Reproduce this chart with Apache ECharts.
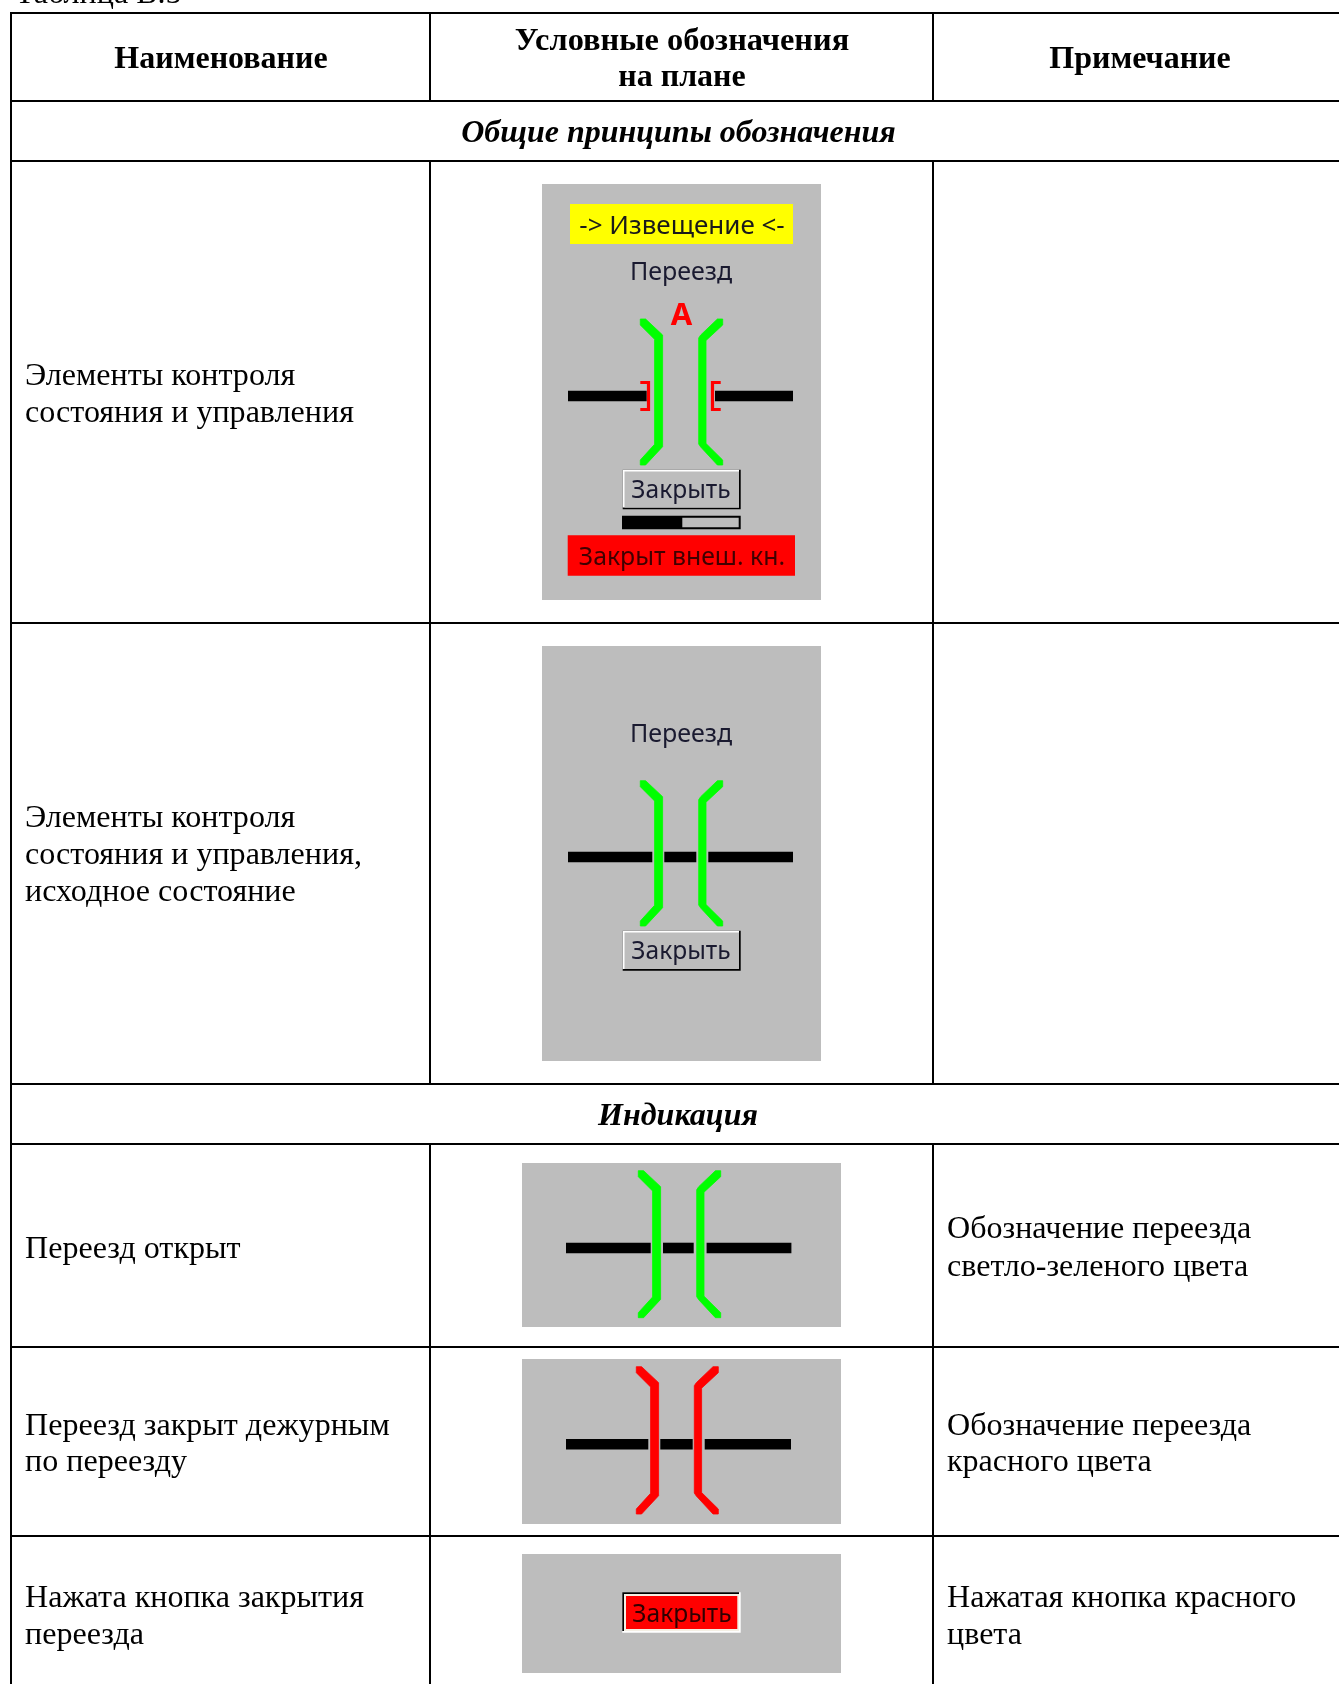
<!DOCTYPE html>
<html><head><meta charset="utf-8">
<style>html,body{margin:0;padding:0;background:#fff}#c{width:1339px;height:1684px}</style>
<script src="https://cdn.jsdelivr.net/npm/echarts@6/dist/echarts.min.js"></script>
</head><body><div id="c"></div>
<script>
const tableCaption = ['Таблица В.5'];
const columnHeaders = ['Наименование', 'Условные обозначения', 'на плане', 'Примечание'];
const sectionTitles = ['Общие принципы обозначения', 'Индикация'];
const rowNames = [
  ['Элементы контроля', 'состояния и управления'],
  ['Элементы контроля', 'состояния и управления,', 'исходное состояние'],
  ['Переезд открыт'],
  ['Переезд закрыт дежурным', 'по переезду'],
  ['Нажата кнопка закрытия', 'переезда']
];
const rowNotes = [
  ['Обозначение переезда', 'светло-зеленого цвета'],
  ['Обозначение переезда', 'красного цвета'],
  ['Нажатая кнопка красного', 'цвета']
];
const schemeLabels = ['-> Извещение <-', 'Переезд', 'А', 'Закрыть', 'Закрыт внеш. кн.'];

const SERIF = '"Liberation Serif"', SANS = '"Noto Sans"';
const GREY = '#bdbdbd', GREEN = '#00ff00', RED = '#ff0000', YELLOW = '#ffff00';

function leftBarrier(x0, yT, yB) {
  return [[x0,yT],[x0+5.3,yT],[x0+22.3,yT+16],[x0+22.3,yB-18.3],[x0+5.3,yB],[x0,yB],[x0,yB-5],[x0+14.3,yB-20.7],[x0+14.3,yT+20.3],[x0,yT+6]];
}
function rightBarrier(x1, yT, yB) {
  return [[x1,yT],[x1-5.3,yT],[x1-22,yT+16],[x1-24,yT+19],[x1-24,yB-21],[x1-22,yB-18],[x1-5.3,yB],[x1,yB],[x1,yB-5],[x1-16.7,yB-21.5],[x1-16.7,yT+21.5],[x1,yT+6]];
}

// layout: rectangles [x0,y0,x1,y1,color]
const rects = [
  [542,184,821,600,GREY],[542,646,821,1061,GREY],[522,1163,841,1327,GREY],[522,1359,841,1524,GREY],[522,1554,841,1673,GREY],
  [570,204,793,244,YELLOW],
  [568,390.7,646.7,401.3,'#000'],[715,390.7,793,401.3,'#000'],
  [568,851.7,652.3,862.3,'#000'],[664.3,851.7,696.3,862.3,'#000'],[708.3,851.7,793,862.3,'#000'],
  [566,1242.7,650.7,1253.3,'#000'],[663,1242.7,693.7,1253.3,'#000'],[706.6,1242.7,791.4,1253.3,'#000'],
  [566,1439,648.3,1449.6,'#000'],[660.3,1439,692.7,1449.6,'#000'],[704.7,1439,791,1449.6,'#000'],
  // buttons
  [622.7,469.7,740.7,509.3,'#000'],[622.7,469.7,739,507.5,'#fff'],[624.5,471.5,739,507.5,GREY],
  [622.7,930.7,740.7,970.7,'#000'],[622.7,930.7,739,969,'#fff'],[624.5,932.5,739,969,GREY],
  // progress
  [622,515.7,740.7,529.3,'#000'],[682.3,517.7,738.7,527.3,GREY],
  // red strip
  [567.7,535.3,795,575.7,RED],
  // pressed button
  [622.3,1592.3,740.7,1632.7,'#fff'],[622.3,1592.3,739,1631,'#000'],[624,1594,739,1631,'#f4efe4'],[626,1596,737.3,1629,RED]
];
const polygons = [
  [leftBarrier(640.3,319,465),GREEN],[rightBarrier(722.7,319,465),GREEN],
  [leftBarrier(640.3,780.7,926),GREEN],[rightBarrier(722.7,780.7,926),GREEN],
  [leftBarrier(638.3,1170.7,1317.7),GREEN],[rightBarrier(720.7,1170.7,1317.7),GREEN],
  [leftBarrier(636.3,1366.7,1514),RED],[rightBarrier(718.3,1366.7,1514),RED]
];
const brackets = [
  [[[640.3,382.5],[648.5,382.5],[648.5,409.5],[640.3,409.5]],RED],
  [[[720.7,382.5],[712.5,382.5],[712.5,409.5],[720.7,409.5]],RED]
];
const rules = [
  [11,13,1339,13],[11,101,1339,101],[11,161,1339,161],[11,623,1339,623],[11,1084,1339,1084],
  [11,1144,1339,1144],[11,1347,1339,1347],[11,1536,1339,1536],
  [11,12,11,1684],[430,13,430,101],[430,161,430,1084],[933,13,933,101],[933,161,933,1084],
  [430,1144,430,1684],[933,1144,933,1684]
];
const T = (x,y,text,font,size,weight,style,color,align) => [x,y,text,font,size,weight,style,color,align];
const body = 32.1;
const labels = [
  T(15,-5.5,tableCaption[0],SERIF,body,'normal','normal','#000','left'),
  T(221,60,columnHeaders[0],SERIF,32,'bold','normal','#000','center'),
  T(682,42,columnHeaders[1],SERIF,32.4,'bold','normal','#000','center'),
  T(682,78,columnHeaders[2],SERIF,32,'bold','normal','#000','center'),
  T(1140,60,columnHeaders[3],SERIF,32,'bold','normal','#000','center'),
  T(678.5,134,sectionTitles[0],SERIF,32,'bold','italic','#000','center'),
  T(678,1116.6,sectionTitles[1],SERIF,32,'bold','italic','#000','center'),
  T(25,376.5,rowNames[0][0],SERIF,body,'normal','normal','#000','left'),
  T(25,413.5,rowNames[0][1],SERIF,body,'normal','normal','#000','left'),
  T(25,818.5,rowNames[1][0],SERIF,body,'normal','normal','#000','left'),
  T(25,855.5,rowNames[1][1],SERIF,body,'normal','normal','#000','left'),
  T(25,892.5,rowNames[1][2],SERIF,body,'normal','normal','#000','left'),
  T(25,1250,rowNames[2][0],SERIF,body,'normal','normal','#000','left'),
  T(25,1427,rowNames[3][0],SERIF,body,'normal','normal','#000','left'),
  T(25,1463,rowNames[3][1],SERIF,body,'normal','normal','#000','left'),
  T(25,1598.5,rowNames[4][0],SERIF,body,'normal','normal','#000','left'),
  T(25,1635.5,rowNames[4][1],SERIF,body,'normal','normal','#000','left'),
  T(947,1230,rowNotes[0][0],SERIF,body,'normal','normal','#000','left'),
  T(947,1268,rowNotes[0][1],SERIF,body,'normal','normal','#000','left'),
  T(947,1427,rowNotes[1][0],SERIF,body,'normal','normal','#000','left'),
  T(947,1463,rowNotes[1][1],SERIF,body,'normal','normal','#000','left'),
  T(947,1598.5,rowNotes[2][0],SERIF,body,'normal','normal','#000','left'),
  T(947,1635.5,rowNotes[2][1],SERIF,body,'normal','normal','#000','left'),
  T(682,227,schemeLabels[0],SANS,26,'normal','normal','#1a1a1a','center'),
  T(681,272.5,schemeLabels[1],SANS,25,'normal','normal','#1a1a30','center'),
  T(681,734.5,schemeLabels[1],SANS,25,'normal','normal','#1a1a30','center'),
  T(681.5,316,schemeLabels[2],SANS,31,'bold','normal',RED,'center'),
  T(681,490.5,schemeLabels[3],SANS,24.6,'normal','normal','#1a1a30','center'),
  T(681,951.5,schemeLabels[3],SANS,24.6,'normal','normal','#1a1a30','center'),
  T(682,1614.5,schemeLabels[3],SANS,24.6,'normal','normal','#300000','center'),
  T(682,557.5,schemeLabels[4],SANS,24.8,'normal','normal','#400000','center')
];

const chart = echarts.init(document.getElementById('c'));
const base = {type:'custom', coordinateSystem:'cartesian2d', silent:true, clip:false};
chart.setOption({
  animation:false,
  backgroundColor:'#fff',
  grid:{left:0,top:0,right:0,bottom:0},
  xAxis:{type:'value',min:0,max:1339,show:false},
  yAxis:{type:'value',min:0,max:1684,inverse:true,show:false},
  series:[
    {...base,name:'rules',data:rules,renderItem:(p,api)=>{
      const a=api.coord([api.value(0),api.value(1)]),b=api.coord([api.value(2),api.value(3)]);
      return {type:'line',shape:{x1:a[0],y1:a[1],x2:b[0],y2:b[1]},style:{stroke:'#000',lineWidth:2}};
    }},
    {...base,name:'panels',data:rects.map(r=>r.slice(0,4)),renderItem:(p,api)=>{
      const a=api.coord([api.value(0),api.value(1)]),b=api.coord([api.value(2),api.value(3)]);
      return {type:'rect',shape:{x:a[0],y:a[1],width:b[0]-a[0],height:b[1]-a[1]},style:{fill:rects[p.dataIndex][4]}};
    }},
    {...base,name:'barriers',data:polygons.map((_,i)=>[i,0]),renderItem:(p,api)=>{
      const g=polygons[p.dataIndex];
      return {type:'polygon',shape:{points:g[0].map(q=>api.coord(q))},style:{fill:g[1],stroke:g[1],lineWidth:0.8,lineJoin:'round'}};
    }},
    {...base,name:'brackets',data:brackets.map((_,i)=>[i,0]),renderItem:(p,api)=>{
      const g=brackets[p.dataIndex];
      return {type:'polyline',shape:{points:g[0].map(q=>api.coord(q))},style:{stroke:g[1],fill:'none',lineWidth:3.2}};
    }},
    {...base,name:'labels',data:labels.map(l=>[l[0],l[1]]),renderItem:(p,api)=>{
      const l=labels[p.dataIndex],c=api.coord([l[0],l[1]]);
      return {type:'text',x:c[0],y:c[1],style:{text:l[2],fontFamily:l[3],fontSize:l[4],fontWeight:l[5],fontStyle:l[6],fill:l[7],align:l[8],verticalAlign:'middle'}};
    }}
  ]
});
</script></body></html>
